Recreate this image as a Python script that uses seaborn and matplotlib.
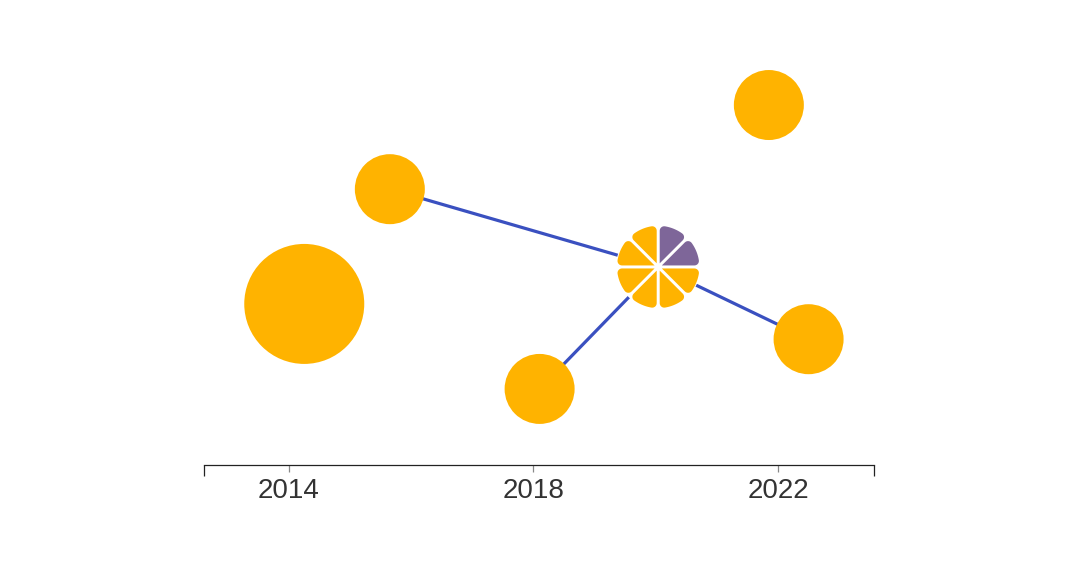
import numpy as np
import pandas as pd
import matplotlib
matplotlib.use("Agg")
import matplotlib.pyplot as plt
import seaborn as sns
from matplotlib import transforms
from matplotlib.patches import Polygon, Circle

# ---------------- data ----------------
node_names = ["A", "B", "C", "D", "E"]
node_years = [2014.25, 2015.65, 2018.10, 2021.85, 2022.50]
node_values = [37.9, 64.9, 17.9, 84.7, 29.6]
node_radius = [60, 35, 35, 35, 35]          # relative bubble radius

hub_year = 2020.04
hub_value = 46.6
# eight equal slices, counter-clockwise starting at 0 deg (east)
slice_values = [1, 1, 1, 1, 1, 1, 1, 1]
slice_groups = ["purple", "purple", "gold", "gold", "gold", "gold", "gold", "gold"]

link_sources = ["B", "C", "E"]              # each linked to the hub
tick_years = [2014, 2018, 2022]
x_range = [2012.61, 2023.57]
y_range = [0, 100]

# ---------------- style ----------------
GOLD = "#FFB300"
PURPLE = "#7E6699"
BLUE = "#3A50C0"
group_colors = {"gold": GOLD, "purple": PURPLE}

sns.set_theme(style="white")
plt.rcParams["font.family"] = ["Liberation Sans", "DejaVu Sans"]

fig = plt.figure(figsize=(10.8, 5.71), dpi=100)
ax = fig.add_axes([204 / 1080, 106 / 571, 670 / 1080, 425 / 571])
ax.set_xlim(*x_range)
ax.set_ylim(*y_range)

nodes = pd.DataFrame({"name": node_names, "year": node_years,
                      "value": node_values, "radius": node_radius})

# links (drawn beneath bubbles)
rows = []
for i, src in enumerate(link_sources):
    r = nodes[nodes.name == src].iloc[0]
    rows.append({"edge": i, "year": r.year, "value": r.value})
    rows.append({"edge": i, "year": hub_year, "value": hub_value})
edges = pd.DataFrame(rows)
sns.lineplot(data=edges, x="year", y="value", units="edge", estimator=None,
             sort=False, color=BLUE, linewidth=2.3, ax=ax, zorder=1)

# bubbles: size in points^2 from pixel radius (dpi 100)
size_map = {r: (2 * r * 0.72) ** 2 for r in set(node_radius)}
sns.scatterplot(data=nodes, x="year", y="value", size="radius", sizes=size_map,
                color=GOLD, linewidth=0, legend=False, ax=ax, zorder=3, alpha=1)

# hub pie with padded, rounded slices (units: inches at dpi 100)
trans = fig.dpi_scale_trans + transforms.ScaledTranslation(hub_year, hub_value, ax.transData)
R = 0.412
gap = 0.03
rc = 0.045
ax.add_patch(Circle((0, 0), R + 0.01, transform=trans, facecolor="white",
                    edgecolor="none", zorder=4))
total = sum(slice_values)
start = 0.0
for val, grp in zip(slice_values, slice_groups):
    span = 2 * np.pi * val / total
    a0, a1 = start, start + span
    start = a1
    h = span / 2
    bis = np.array([np.cos(a0 + h), np.sin(a0 + h)])
    apex = bis * (gap / 2) / np.sin(h)
    pts = [apex]

    def corner(a, sign):
        e = np.array([np.cos(a), np.sin(a)])
        n = sign * np.array([-np.sin(a), np.cos(a)])
        t = np.sqrt((R - rc) ** 2 - (gap / 2 + rc) ** 2)
        C = t * e + (gap / 2 + rc) * n
        T1 = t * e + (gap / 2) * n
        T2 = C / np.linalg.norm(C) * R
        ang1 = np.arctan2(*(T1 - C)[::-1])
        ang2 = np.arctan2(*(T2 - C)[::-1])
        return C, ang1, ang2, T1, T2

    C0, s1, s2, T1a, T2a = corner(a0, 1)
    C1, q1, q2, T1b, T2b = corner(a1, -1)
    # corner arc at first edge (from line tangent to circle tangent)
    d = (s2 - s1 + np.pi) % (2 * np.pi) - np.pi
    for th in np.linspace(s1, s1 + d, 8):
        pts.append(C0 + rc * np.array([np.cos(th), np.sin(th)]))
    ta = np.arctan2(T2a[1], T2a[0])
    tb = np.arctan2(T2b[1], T2b[0])
    db = (tb - ta) % (2 * np.pi)
    for th in np.linspace(ta, ta + db, 30):
        pts.append(R * np.array([np.cos(th), np.sin(th)]))
    d2 = (q1 - q2 + np.pi) % (2 * np.pi) - np.pi
    for th in np.linspace(q2, q2 + d2, 8):
        pts.append(C1 + rc * np.array([np.cos(th), np.sin(th)]))
    ax.add_patch(Polygon(np.array(pts), closed=True, transform=trans,
                         facecolor=group_colors[grp], edgecolor="none", zorder=5))

# axis styling
for side in ["left", "right", "top"]:
    ax.spines[side].set_visible(False)
ax.spines["bottom"].set_color("#222222")
ax.spines["bottom"].set_linewidth(0.9)
ax.set_yticks([])
ax.set_xticks(tick_years)
ax.set_xticklabels([str(y) for y in tick_years])
ax.tick_params(axis="x", which="major", length=5, width=0.9, color="#888888",
               pad=4, labelsize=20, labelcolor="#333333", bottom=True)
ax.set_xticks(x_range, minor=True)
ax.tick_params(axis="x", which="minor", length=8, width=0.9, color="#222222", bottom=True)
ax.set_xlabel("")
ax.set_ylabel("")

fig.savefig("out.png", dpi=100)
